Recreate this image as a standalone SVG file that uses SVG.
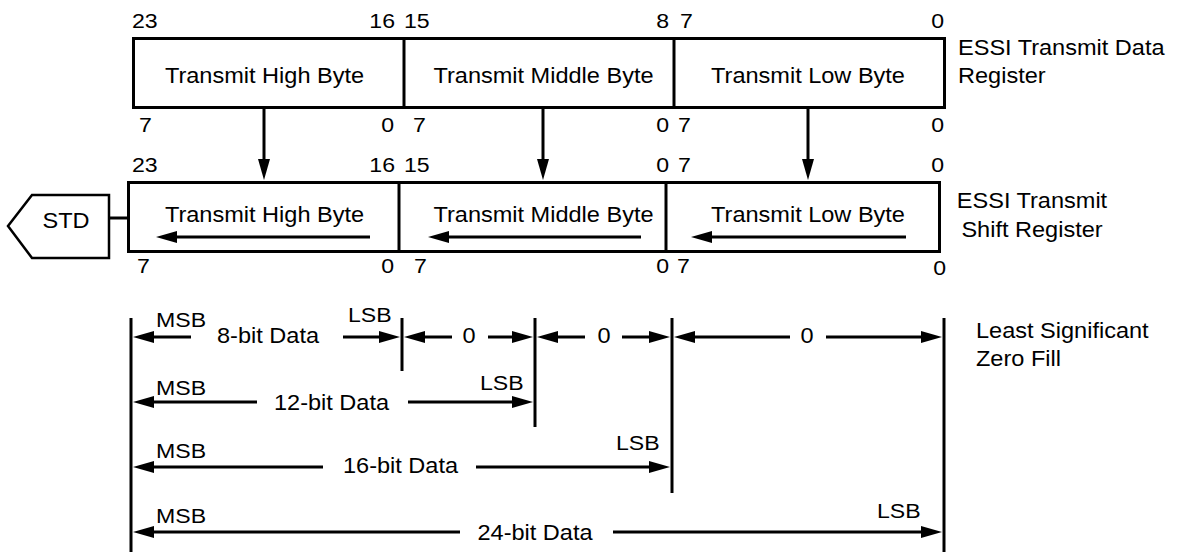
<svg xmlns="http://www.w3.org/2000/svg" width="1181" height="552" viewBox="0 0 1181 552">
<style>
text{font-family:"Liberation Sans",Arial,sans-serif;fill:#000}
.lb{font-size:22px}
.nm{font-size:21px}
.m{text-anchor:middle}
.e{text-anchor:end}
.box{fill:#fff;stroke:#000;stroke-width:3}
.ln{stroke:#000;stroke-width:3;fill:none}
.ar{stroke:#000;stroke-width:3;fill:none;marker-end:url(#ah)}
</style>
<defs>
<marker id="ah" markerUnits="userSpaceOnUse" markerWidth="22" markerHeight="12" refX="1" refY="6" orient="auto" viewBox="0 0 22 12">
<path d="M0,0 L21,6 L0,12 Z" fill="#000"/>
</marker>
</defs>
<rect width="1181" height="552" fill="#fff"/>

<g id="transmit-data-register">
<rect class="box" x="133.5" y="38.5" width="811" height="69"/>
<line class="ln" x1="404" y1="38.5" x2="404" y2="107.5"/>
<line class="ln" x1="674" y1="38.5" x2="674" y2="107.5"/>
<text class="lb m" transform="translate(264.5,83) scale(1.07,1)">Transmit High Byte</text>
<text class="lb m" transform="translate(543.5,83) scale(1.07,1)">Transmit Middle Byte</text>
<text class="lb m" transform="translate(808,83) scale(1.07,1)">Transmit Low Byte</text>
<text class="nm" transform="translate(132,28) scale(1.1,1)">23</text>
<text class="nm e" transform="translate(395,28) scale(1.1,1)">16</text>
<text class="nm" transform="translate(404,28) scale(1.1,1)">15</text>
<text class="nm e" transform="translate(669,28) scale(1.1,1)">8</text>
<text class="nm" transform="translate(680,28) scale(1.1,1)">7</text>
<text class="nm e" transform="translate(944,28) scale(1.1,1)">0</text>
<text class="nm" transform="translate(139,132) scale(1.1,1)">7</text>
<text class="nm e" transform="translate(394,132) scale(1.1,1)">0</text>
<text class="nm" transform="translate(413,132) scale(1.1,1)">7</text>
<text class="nm e" transform="translate(669,132) scale(1.1,1)">0</text>
<text class="nm" transform="translate(678,132) scale(1.1,1)">7</text>
<text class="nm e" transform="translate(944,132) scale(1.1,1)">0</text>
<text class="lb" transform="translate(958,55) scale(1.07,1)">ESSI Transmit Data</text>
<text class="lb" transform="translate(958,83) scale(1.07,1)">Register</text>
</g>

<g id="transmit-shift-register">
<rect class="box" x="128.5" y="182.5" width="811" height="69"/>
<line class="ln" x1="399" y1="182.5" x2="399" y2="251.5"/>
<line class="ln" x1="666" y1="182.5" x2="666" y2="251.5"/>
<text class="lb m" transform="translate(264.5,222) scale(1.07,1)">Transmit High Byte</text>
<text class="lb m" transform="translate(543.5,222) scale(1.07,1)">Transmit Middle Byte</text>
<text class="lb m" transform="translate(808,222) scale(1.07,1)">Transmit Low Byte</text>
<text class="nm" transform="translate(132,172) scale(1.1,1)">23</text>
<text class="nm e" transform="translate(395,172) scale(1.1,1)">16</text>
<text class="nm" transform="translate(404,172) scale(1.1,1)">15</text>
<text class="nm e" transform="translate(669,172) scale(1.1,1)">0</text>
<text class="nm" transform="translate(678,172) scale(1.1,1)">7</text>
<text class="nm e" transform="translate(944,172) scale(1.1,1)">0</text>
<text class="nm" transform="translate(137,273) scale(1.1,1)">7</text>
<text class="nm e" transform="translate(394,273) scale(1.1,1)">0</text>
<text class="nm" transform="translate(414,273) scale(1.1,1)">7</text>
<text class="nm e" transform="translate(669,273) scale(1.1,1)">0</text>
<text class="nm" transform="translate(677,273) scale(1.1,1)">7</text>
<text class="nm e" transform="translate(946,275) scale(1.1,1)">0</text>
<text class="lb m" transform="translate(1032,208) scale(1.07,1)">ESSI Transmit</text>
<text class="lb m" transform="translate(1032,237) scale(1.07,1)">Shift Register</text>
</g>

<g id="std">
<polygon points="8,226 32,195 109,195 109,258 32,258" fill="#fff" stroke="#000" stroke-width="2.5"/>
<text class="lb m" transform="translate(66,228) scale(1.07,1)">STD</text>
</g>

<g id="data-formats">
<line class="ln" x1="131" y1="318" x2="131" y2="552"/>
<line class="ln" x1="402" y1="318" x2="402" y2="371"/>
<line class="ln" x1="535" y1="318" x2="535" y2="427"/>
<line class="ln" x1="672" y1="318" x2="672" y2="493"/>
<line class="ln" x1="944" y1="318" x2="944" y2="552"/>
<text class="nm" transform="translate(156,327) scale(1.1,1)">MSB</text>
<text class="lb m" transform="translate(268,343) scale(1.07,1)">8-bit Data</text>
<text class="nm" transform="translate(348,322) scale(1.1,1)">LSB</text>
<text class="lb m" transform="translate(469,343) scale(1.07,1)">0</text>
<text class="lb m" transform="translate(604,343) scale(1.07,1)">0</text>
<text class="lb m" transform="translate(807,343) scale(1.07,1)">0</text>
<text class="nm" transform="translate(156,395) scale(1.1,1)">MSB</text>
<text class="lb m" transform="translate(331.5,410) scale(1.07,1)">12-bit Data</text>
<text class="nm" transform="translate(480,390) scale(1.1,1)">LSB</text>
<text class="nm" transform="translate(156,458) scale(1.1,1)">MSB</text>
<text class="lb m" transform="translate(400.5,473) scale(1.07,1)">16-bit Data</text>
<text class="nm" transform="translate(616,450) scale(1.1,1)">LSB</text>
<text class="nm" transform="translate(156,523) scale(1.1,1)">MSB</text>
<text class="lb m" transform="translate(535,540) scale(1.07,1)">24-bit Data</text>
<text class="nm" transform="translate(877,518) scale(1.1,1)">LSB</text>
<text class="lb" transform="translate(976,338) scale(1.07,1)">Least Significant</text>
<text class="lb" transform="translate(976,366) scale(1.07,1)">Zero Fill</text>
</g>

<g id="connectors">
<line class="ar" x1="264" y1="109" x2="264" y2="160"/>
<line class="ar" x1="543" y1="109" x2="543" y2="160"/>
<line class="ar" x1="808" y1="109" x2="808" y2="160"/>
<line class="ar" x1="370" y1="237" x2="176" y2="237"/>
<line class="ar" x1="641" y1="237" x2="448" y2="237"/>
<line class="ar" x1="906" y1="237" x2="711" y2="237"/>
<line class="ln" x1="110" y1="218" x2="128" y2="218"/>
<line class="ar" x1="191" y1="337" x2="153" y2="337"/>
<line class="ar" x1="343" y1="337" x2="380" y2="337"/>
<line class="ar" x1="452" y1="337" x2="424" y2="337"/>
<line class="ar" x1="488" y1="337" x2="513" y2="337"/>
<line class="ar" x1="585" y1="337" x2="557" y2="337"/>
<line class="ar" x1="622" y1="337" x2="650" y2="337"/>
<line class="ar" x1="790" y1="337" x2="694" y2="337"/>
<line class="ar" x1="826" y1="337" x2="922" y2="337"/>
<line class="ar" x1="257" y1="402" x2="153" y2="402"/>
<line class="ar" x1="408" y1="402" x2="513" y2="402"/>
<line class="ar" x1="323" y1="467" x2="153" y2="467"/>
<line class="ar" x1="476" y1="467" x2="650" y2="467"/>
<line class="ar" x1="460" y1="532" x2="153" y2="532"/>
<line class="ar" x1="613" y1="532" x2="922" y2="532"/>
</g>
</svg>
